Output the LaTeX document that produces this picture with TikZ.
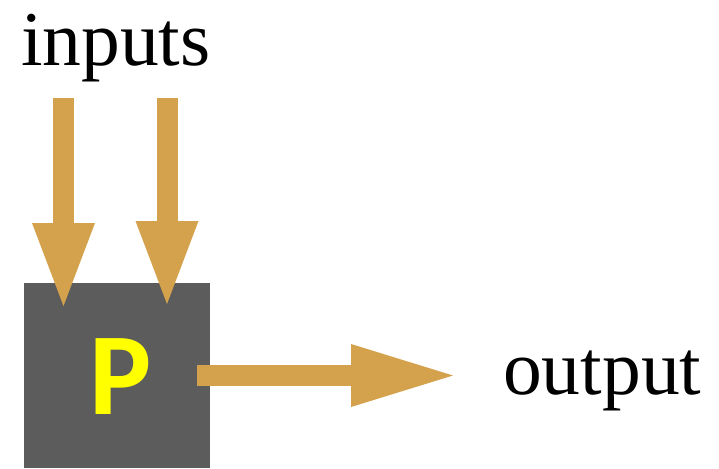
\documentclass[tikz,border=0pt]{standalone}
\usepackage{fontspec}
\setmainfont{Liberation Serif}
\newfontfamily\labelsans{Carlito}
\usetikzlibrary{arrows.meta}
\definecolor{arrowgold}{RGB}{212,162,76}
\definecolor{boxgray}{RGB}{92,92,92}
\definecolor{pyellow}{RGB}{255,255,0}
\begin{document}
\begin{tikzpicture}[x=1pt,y=-1pt,
  fatarrow/.style={draw=arrowgold,line width=21pt,line cap=butt,
    -{Triangle[width=63pt,length=83pt,line width=0pt,color=arrowgold]}},
  wordlabel/.style={inner sep=0pt,anchor=base west,font=\fontsize{77.5}{80}\selectfont},
  procbox/.style={fill=boxgray,draw=none,minimum width=186pt,minimum height=185pt,inner sep=0pt}]
\useasboundingbox (0,0) rectangle (719,468);

% process block
\node[procbox] (proc) at (117,375.5) {};
\node[inner sep=0pt,anchor=base,text=pyellow,
      font=\labelsans\bfseries\fontsize{117}{117}\selectfont] (plabel) at (120.5,414) {P};

% labels
\node[wordlabel] (inputs) at (21,66) {inputs};
\node[wordlabel] (output) at (503,394) {output};

% arrow end points
\coordinate (inA) at (63.5,98);
\coordinate (inB) at (167,98);
\coordinate (tipA) at (63.5,306);
\coordinate (tipB) at (167,304);
\coordinate (outStart) at (197,375.5);
\coordinate (outTip) at (453,375.5);

% connectors
\draw[fatarrow] (inA) -- (tipA);
\draw[fatarrow] (inB) -- (tipB);
\draw[fatarrow,-{Triangle[width=63pt,length=102pt,line width=0pt,color=arrowgold]}] (outStart) -- (outTip);
\end{tikzpicture}
\end{document}
